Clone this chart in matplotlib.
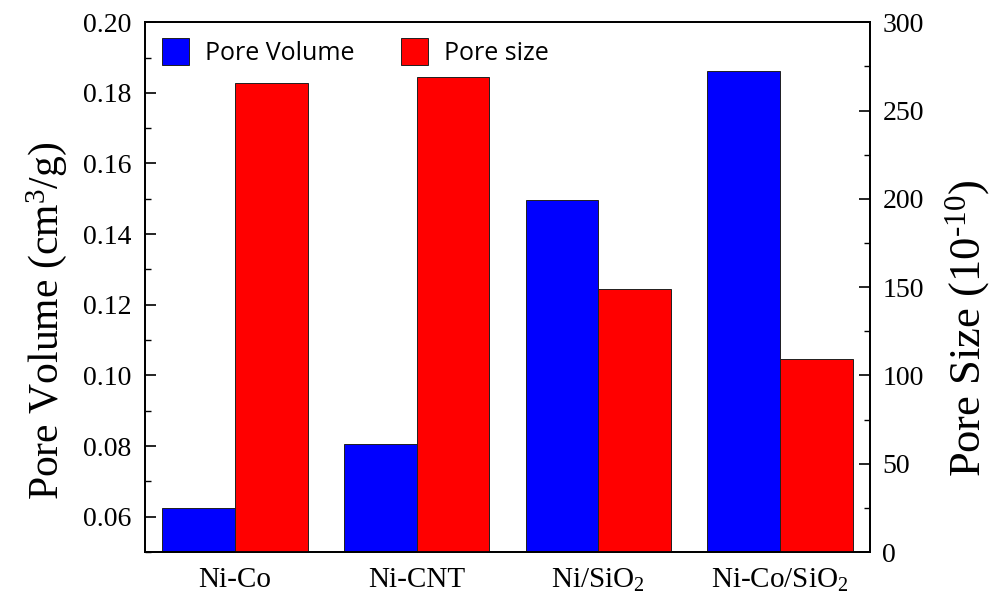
import matplotlib
matplotlib.use("Agg")
import matplotlib.pyplot as plt
import numpy as np
from matplotlib.ticker import MultipleLocator

categories = ["Ni-Co", "Ni-CNT", "Ni/SiO$_2$", "Ni-Co/SiO$_2$"]
pore_volume = [0.0625, 0.0807, 0.1497, 0.1862]
pore_size = [265.5, 268.9, 148.9, 109.2]

plt.rcParams['font.family'] = ['Liberation Serif']
plt.rcParams['mathtext.fontset'] = 'custom'
plt.rcParams['mathtext.rm'] = 'Liberation Serif'
plt.rcParams['mathtext.it'] = 'Liberation Serif:italic'

fig = plt.figure(figsize=(9.93, 6.0), dpi=100)
ax = fig.add_axes([0.146, 0.08, 0.730, 0.883])
ax2 = ax.twinx()

x = np.arange(len(categories))
w = 0.4
b1 = ax.bar(x - w/2, pore_volume, w, color='#0000FF', edgecolor='#202020', linewidth=0.7, label='Pore Volume')
b2 = ax2.bar(x + w/2, pore_size, w, color='#FF0000', edgecolor='#202020', linewidth=0.7, label='Pore size')

ax.set_xlim(-0.495, 3.495)
ax.set_ylim(0.05, 0.20)
ax2.set_ylim(0, 300)

ax.yaxis.set_major_locator(MultipleLocator(0.02))
ax.yaxis.set_minor_locator(MultipleLocator(0.01))
ax2.yaxis.set_major_locator(MultipleLocator(50))
ax2.yaxis.set_minor_locator(MultipleLocator(25))
ax.yaxis.set_major_formatter(matplotlib.ticker.FormatStrFormatter('%.2f'))

ax.set_xticks(x)
ax.set_xticklabels(categories, fontsize=21)
ax.tick_params(axis='x', length=0, pad=11)
ax.tick_params(axis='y', which='major', direction='in', length=8, width=1.2, labelsize=20, pad=10)
ax.tick_params(axis='y', which='minor', direction='in', length=4, width=1.0)
ax2.tick_params(axis='y', which='major', direction='in', length=8, width=1.2, labelsize=20, pad=9)
ax2.tick_params(axis='y', which='minor', direction='in', length=4, width=1.0)

for a in (ax, ax2):
    for s in a.spines.values():
        s.set_linewidth(1.3)

ax.set_ylabel("Pore Volume (cm$^3$/g)", fontsize=30, labelpad=10, y=0.436)
ax2.set_ylabel(r"Pore Size (10$^{\text{-10}}$)", fontsize=32, labelpad=14, y=0.423)

leg = ax2.legend([b1, b2], ['Pore Volume', 'Pore size'], loc='upper left', ncol=2, frameon=False,
                 prop={'family': 'Open Sans', 'size': 18}, handlelength=1.1, handleheight=1.3,
                 columnspacing=1.85, handletextpad=0.62, bbox_to_anchor=(0.0, 1.002), borderaxespad=0.28)

fig.savefig("out.png", dpi=100)
